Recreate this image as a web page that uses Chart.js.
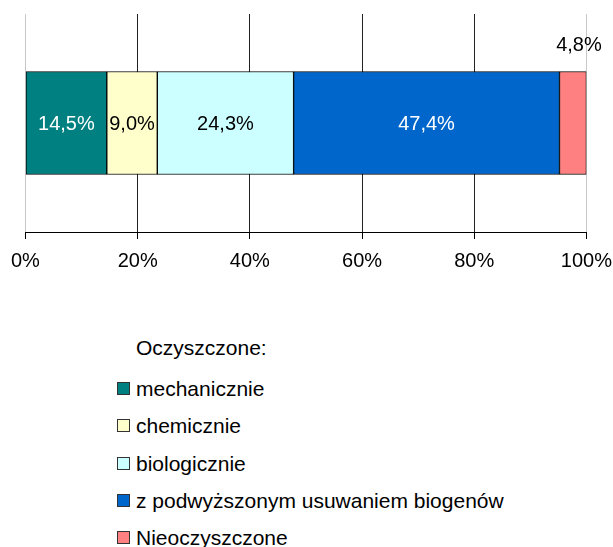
<!DOCTYPE html>
<html>
<head>
<meta charset="utf-8">
<script src="https://cdn.jsdelivr.net/npm/chart.js@4/dist/chart.umd.min.js"></script>
<style>
  body { margin: 0; background: #fff; font-family: "Liberation Sans", Arial, sans-serif; overflow: hidden; }
  #wrap { position: relative; width: 613px; height: 547px; overflow: hidden; }
  #chartBox { position: absolute; left: 1px; top: 0; width: 621px; height: 290px; }
  #legend { position: absolute; left: 117px; top: 334px; font-size: 21px; color: #000; }
  #legend .title { padding-left: 19px; height: 28px; line-height: 28px; margin-bottom: 8px; }
  #legend .item { height: 37.25px; line-height: 37.25px; display: flex; align-items: center; }
  #legend .box { width: 11px; height: 11px; border: 1px solid #333; margin-right: 6px; }
</style>
</head>
<body>
<div id="wrap">
  <div id="chartBox"><canvas id="wasteChart"></canvas></div>
  <div id="legend"></div>
</div>
<script>
// ---- data ----
const categories = ['Ścieki'];
const seriesNames = ['mechanicznie', 'chemicznie', 'biologicznie',
  'z podwyższonym usuwaniem biogenów', 'Nieoczyszczone'];
const seriesValues = [14.5, 9.0, 24.3, 47.4, 4.8];
const tickLabels = ['0%', '20%', '40%', '60%', '80%', '100%'];
const legendTitle = 'Oczyszczone:';

const fills  = ['#008080', '#FFFFCC', '#CCFFFF', '#0066CC', '#FF8080'];
const labelColors = ['#fff', '#000', '#000', '#fff', '#000'];
const fontFamily = '"Liberation Sans", Arial, sans-serif';

// value labels, the last (small) one sits above the bar
const valueLabels = {
  id: 'valueLabels',
  afterDatasetsDraw(chart) {
    const ctx = chart.ctx;
    ctx.save();
    ctx.font = '20px ' + fontFamily;
    ctx.textAlign = 'center';
    ctx.textBaseline = 'middle';
    chart.data.datasets.forEach((ds, i) => {
      const bar = chart.getDatasetMeta(i).data[0];
      const txt = ds.data[0].toFixed(1).replace('.', ',') + '%';
      const cx = (bar.x + bar.base) / 2;
      ctx.fillStyle = labelColors[i];
      if (i === seriesValues.length - 1) {
        ctx.fillText(txt, cx + 6, bar.y - bar.height / 2 - 26);
      } else {
        ctx.fillText(txt, cx, bar.y + 1);
      }
    });
    ctx.restore();
  }
};

new Chart(document.getElementById('wasteChart'), {
  type: 'bar',
  data: {
    labels: categories,
    datasets: seriesNames.map((name, i) => ({
      label: name,
      data: [seriesValues[i]],
      backgroundColor: fills[i],
      borderColor: '#000',
      borderWidth: 1,
      borderSkipped: false,
      barThickness: 103
    }))
  },
  options: {
    indexAxis: 'y',
    responsive: true,
    maintainAspectRatio: false,
    animation: false,
    layout: { padding: { left: 0, right: 0, top: 14, bottom: 7 } },
    plugins: { legend: { display: false }, tooltip: { enabled: false } },
    scales: {
      x: {
        stacked: true,
        min: 0,
        max: 100,
        ticks: {
          stepSize: 20,
          padding: 10,
          color: '#000',
          font: { family: fontFamily, size: 20 },
          callback: (v, idx) => tickLabels[idx]
        },
        grid: {
          color: ctx => (ctx.index === 0 || ctx.index === 5) ? '#c8c8c8' : '#222',
          tickColor: '#000',
          tickLength: 7,
          lineWidth: 1
        },
        border: { display: true, color: '#000' }
      },
      y: {
        stacked: true,
        display: false
      }
    }
  },
  plugins: [valueLabels]
});

// ---- legend ----
const legend = document.getElementById('legend');
const t = document.createElement('div');
t.className = 'title';
t.textContent = legendTitle;
legend.appendChild(t);
seriesNames.forEach((name, i) => {
  const row = document.createElement('div');
  row.className = 'item';
  const box = document.createElement('span');
  box.className = 'box';
  box.style.background = fills[i];
  const lab = document.createElement('span');
  lab.textContent = name;
  row.appendChild(box);
  row.appendChild(lab);
  legend.appendChild(row);
});
</script>
</body>
</html>
